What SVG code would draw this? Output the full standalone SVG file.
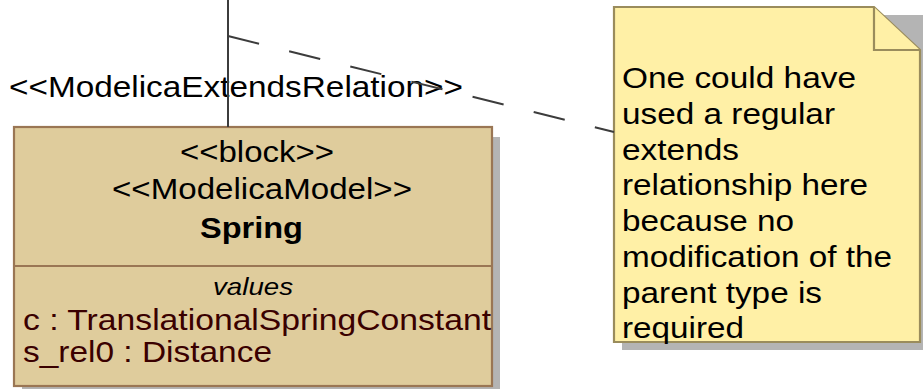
<svg xmlns="http://www.w3.org/2000/svg" width="923" height="389" viewBox="0 0 923 389">
  <style>
    text { font-family: "Liberation Sans", Arial, sans-serif; font-size: 29.5px; fill: #000; }
    .name { font-weight: bold; }
    .compartment { font-style: italic; font-size: 24px; }
    .attr { fill: #3a0000; }
    .block-body { fill: #DFCC9C; stroke: #9A7654; stroke-width: 2.2; }
    .block-line { stroke: #9A7654; stroke-width: 2.2; fill: none; }
    .note-body { fill: #FFF0A6; stroke: #9A8C5C; stroke-width: 2.2; stroke-linejoin: miter; }
    .shadow { fill: #B4B4B4; }
    .link { stroke: #3C3C3C; stroke-width: 2; fill: none; }
    .anchor { stroke-dasharray: 32 31; }
  </style>

  <!-- Block: Spring -->
  <g id="block-spring">
    <rect class="shadow" x="22" y="137" width="478" height="259"/>
    <rect class="block-body" x="14" y="127" width="478" height="259"/>
    <line class="block-line" x1="14" y1="266" x2="492" y2="266"/>
    <text x="180" y="162" textLength="154" lengthAdjust="spacingAndGlyphs">&lt;&lt;block&gt;&gt;</text>
    <text x="112" y="199" textLength="300" lengthAdjust="spacingAndGlyphs">&lt;&lt;ModelicaModel&gt;&gt;</text>
    <text class="name" x="200" y="238" textLength="103" lengthAdjust="spacingAndGlyphs">Spring</text>
    <text class="compartment" x="213" y="295" textLength="80" lengthAdjust="spacingAndGlyphs">values</text>
    <text class="attr" x="23" y="330" textLength="468" lengthAdjust="spacingAndGlyphs">c : TranslationalSpringConstant</text>
    <text class="attr" x="23" y="362" textLength="249" lengthAdjust="spacingAndGlyphs">s_rel0 : Distance</text>
  </g>

  <!-- Comment note -->
  <g id="note-extends">
    <path class="shadow" d="M622,15 H923 V350 H622 Z"/>
    <path class="note-body" d="M614,7 L874,7 L920,50 L920,342 L614,342 Z"/>
    <path class="note-body" d="M874,7 L874,50 L920,50"/>
    <text x="622" y="88" textLength="234" lengthAdjust="spacingAndGlyphs">One could have</text>
    <text x="622" y="124" textLength="213" lengthAdjust="spacingAndGlyphs">used a regular</text>
    <text x="622" y="160" textLength="117" lengthAdjust="spacingAndGlyphs">extends</text>
    <text x="622" y="195" textLength="246" lengthAdjust="spacingAndGlyphs">relationship here</text>
    <text x="622" y="231" textLength="172" lengthAdjust="spacingAndGlyphs">because no</text>
    <text x="622" y="267" textLength="270" lengthAdjust="spacingAndGlyphs">modification of the</text>
    <text x="622" y="303" textLength="200" lengthAdjust="spacingAndGlyphs">parent type is</text>
    <text x="622" y="338" textLength="122" lengthAdjust="spacingAndGlyphs">required</text>
  </g>

  <!-- Connectors -->
  <g id="connectors">
    <text x="9" y="97" textLength="454" lengthAdjust="spacingAndGlyphs">&lt;&lt;ModelicaExtendsRelation&gt;&gt;</text>
    <line class="link" x1="228" y1="0" x2="228" y2="127"/>
    <line class="link anchor" x1="228" y1="36" x2="614" y2="132"/>
  </g>
</svg>
